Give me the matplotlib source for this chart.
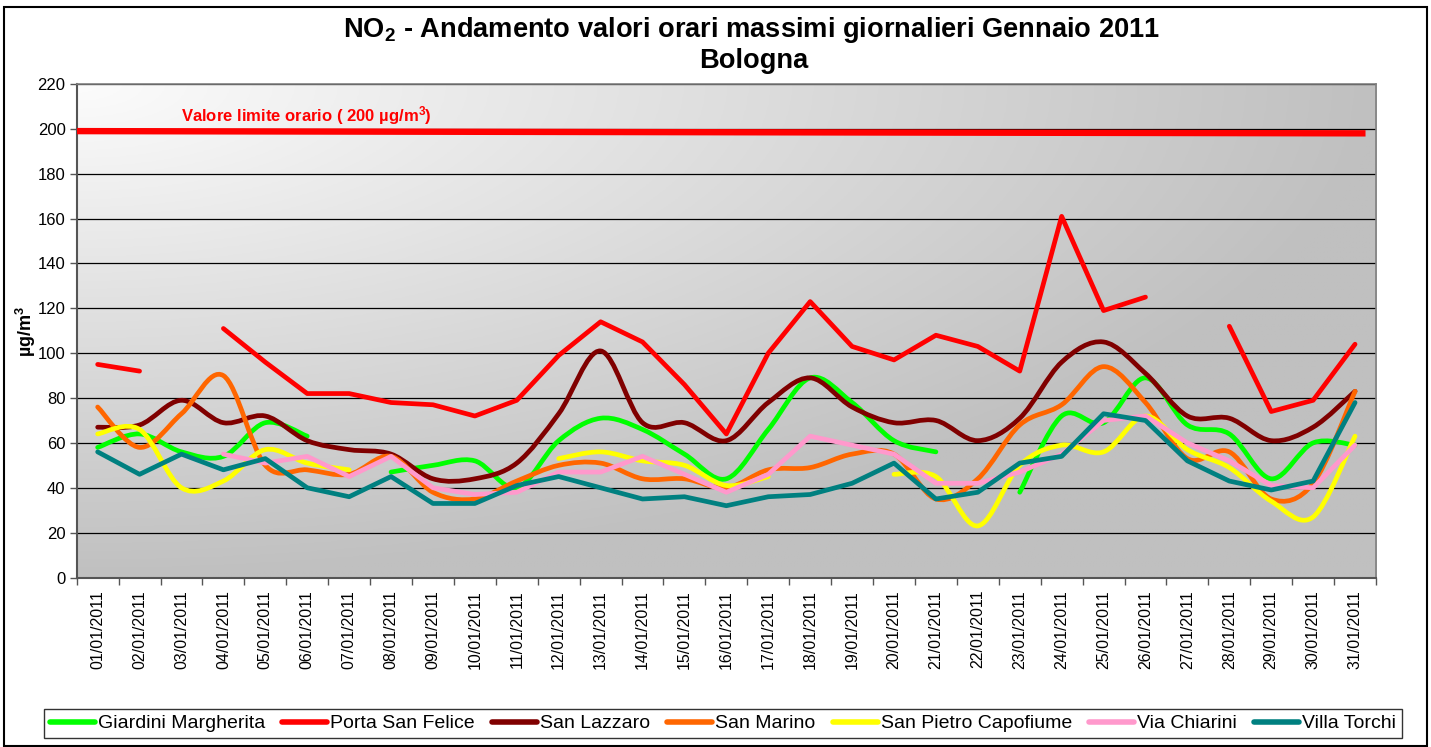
import numpy as np
import matplotlib
matplotlib.use("Agg")
import matplotlib.pyplot as plt
from matplotlib.path import Path
from matplotlib.patches import PathPatch, Rectangle
from matplotlib.lines import Line2D

plt.rcParams['font.family'] = ['Liberation Sans', 'DejaVu Sans']
plt.rcParams['mathtext.fontset'] = 'custom'
plt.rcParams['mathtext.rm'] = 'Liberation Sans'
plt.rcParams['mathtext.bf'] = 'Liberation Sans:bold'
plt.rcParams['mathtext.default'] = 'regular'

# ---------------- data ----------------
days = ["%02d/01/2011" % d for d in range(1, 32)]

giardini_margherita = [58, 64, 56, 54, 69, 63, None, 47, 50, 52, 40, 61, 71, 66, 55, 44,
                       66, 89, 78, 61, 56, None, 38, 72, 69, 89, 68, 64, 44, 60, 59]
porta_san_felice = [95, 92, None, 111, 96, 82, 82, 78, 77, 72, 79, 99, 114, 105, 86, 64,
                    100, 123, 103, 97, 108, 103, 92, 161, 119, 125, None, 112, 74, 79, 104]
san_lazzaro = [67, 68, 79, 69, 72, 61, 57, 55, 44, 44, 51, 73, 101, 69, 69, 61,
               78, 89, 76, 69, 70, 61, 71, 96, 105, 91, 72, 71, 61, 67, 83]
san_marino = [76, 58, 73, 90, 50, 48, 46, 54, 38, 35, 43, 50, 51, 44, 44, 40,
              48, 49, 55, 55, 35, 44, 68, 77, 94, 78, 53, 56, 35, 42, 83]
san_pietro_capofiume = [64, 66, 40, 43, 57, 51, 48, None, None, None, None, 53, 56, 52, 50, 41,
                        45, None, None, 46, 45, 23, 50, 59, 56, 72, 57, 49, 34, 27, 63]
via_chiarini = [None, None, None, 55, 51, 54, 45, 54, 40, 37, 38, 47, 47, 54, 46, 38,
                46, 63, 59, 55, 42, 42, 47, 55, 70, 72, 60, 52, 41, 40, 59]
villa_torchi = [56, 46, 55, 48, 53, 40, 36, 45, 33, 33, 41, 45, 40, 35, 36, 32,
                36, 37, 42, 51, 35, 38, 51, 54, 73, 70, 52, 43, 39, 43, 78]

limit_line = [199, 198]          # drawn limit line (left edge -> right end)
limit_label = "Valore limite orario ( 200 µg/m$^{\\mathbf{3}}$)"

series_names = ["Giardini Margherita", "Porta San Felice", "San Lazzaro", "San Marino",
                "San Pietro Capofiume", "Via Chiarini", "Villa Torchi"]
series_values = [giardini_margherita, porta_san_felice, san_lazzaro, san_marino,
                 san_pietro_capofiume, via_chiarini, villa_torchi]
series_colors = ["#00FF00", "#FF0000", "#800000", "#FF6600", "#FFFF00", "#FF99CC", "#008080"]
series_smooth = [True, False, True, True, True, False, False]

yticks = list(range(0, 221, 20))

# ---------------- figure ----------------
W, H = 1431, 747
fig = plt.figure(figsize=(W / 100, H / 100), dpi=100)
fig.patch.set_facecolor("white")
ax = fig.add_axes([76.7 / W, 1 - 577.5 / H, (1376 - 76.7) / W, (577.5 - 84) / H])

n = len(days)
x = np.arange(n)

# gradient background (light at top-left corner, gray towards bottom/right)
gx, gy = np.meshgrid(np.linspace(0, 1, 400), np.linspace(0, 1, 200))
t = np.clip(np.sqrt(gx ** 2 + gy ** 2), 0, 1)
c0, c1 = 252 / 255, 192 / 255
val = c0 + (c1 - c0) * t
img = np.dstack([val, val, val])
ax.imshow(img, extent=[-0.5, n - 0.5, 0, 220], aspect='auto', zorder=0, origin='upper')
ax.set_xlim(-0.5, n - 0.5)
ax.set_ylim(0, 220)

ax.set_axisbelow(True)
ax.yaxis.grid(True, color="black", lw=0.9)
ax.set_yticks(yticks)
ax.set_yticklabels([str(v) for v in yticks], fontsize=12)
ax.tick_params(axis='y', length=5, width=1, color="#555555", pad=3)

ax.set_xticks(x)
ax.set_xticklabels(days, rotation=90, fontsize=11.5)
ax.tick_params(axis='x', which='major', length=0, pad=9)
ax.set_xticks(np.arange(-0.5, n, 1.0), minor=True)
ax.tick_params(axis='x', which='minor', length=5, width=1, color="#555555")

for s in ["top", "right"]:
    ax.spines[s].set_color("#808080")
    ax.spines[s].set_linewidth(1.2)
for s in ["left", "bottom"]:
    ax.spines[s].set_color("#555555")
    ax.spines[s].set_linewidth(1.5)


def smooth_path(xs, ys):
    verts, codes = [], []
    runs, cur = [], []
    for xi, yi in zip(xs, ys):
        if yi is None:
            if cur:
                runs.append(cur)
            cur = []
        else:
            cur.append((xi, yi))
    if cur:
        runs.append(cur)
    for run in runs:
        p = np.array(run, dtype=float)
        verts.append(p[0]); codes.append(Path.MOVETO)
        for i in range(len(p) - 1):
            p0 = p[i - 1] if i > 0 else p[i]
            p3 = p[i + 2] if i + 2 < len(p) else p[i + 1]
            c1_ = p[i] + (p[i + 1] - p0) / 6.0
            c2_ = p[i + 1] - (p3 - p[i]) / 6.0
            verts += [c1_, c2_, p[i + 1]]
            codes += [Path.CURVE4] * 3
    return Path(verts, codes)


handles = []
for name, vals, col, sm in zip(series_names, series_values, series_colors, series_smooth):
    if sm:
        patch = PathPatch(smooth_path(x, vals), facecolor="none", edgecolor=col, lw=3.4,
                          capstyle='round', joinstyle='round', zorder=3)
        ax.add_patch(patch)
    else:
        yv = np.array([np.nan if v is None else v for v in vals], dtype=float)
        ax.plot(x, yv, color=col, lw=3.4, solid_capstyle='round', solid_joinstyle='round', zorder=3)
    handles.append(Line2D([], [], color=col, lw=4, solid_capstyle='round'))

# limit line
ax.plot([-0.5, 30.25], limit_line, color="#FF0000", lw=4.6, solid_capstyle='butt', zorder=3)
ax.text(2.0, 201.0, limit_label, color="#FF0000", fontsize=12, fontweight='bold',
        ha='left', va='bottom', zorder=4)

# titles
fig.text(751 / W, 1 - 30 / H,
         r"NO$_{\mathbf{2}}$ - Andamento valori orari massimi giornalieri Gennaio 2011",
         ha='center', va='center', fontsize=19.6, fontweight='bold')
fig.text(754 / W, 1 - 61 / H, "Bologna", ha='center', va='center', fontsize=19.6, fontweight='bold')

# y label
fig.text(26 / W, 1 - 331 / H, "µg/m$^{\\mathbf{3}}$", rotation=90, ha='center', va='center',
         fontsize=13, fontweight='bold')

# legend
leg = fig.legend(handles, series_names, loc='center', bbox_to_anchor=(723 / W, 1 - 723.5 / H),
                 ncol=7, frameon=True, fancybox=False,
                 handlelength=2.3, handletextpad=0.15, columnspacing=0.9,
                 borderpad=0.3, borderaxespad=0,
                 prop={'family': ['Liberation Sans'], 'size': 14})
leg.get_frame().set_edgecolor("black")
leg.get_frame().set_linewidth(1.0)

# figure border
fig.patches.append(Rectangle((4 / W, 1 / H), 1423 / W, 739 / H, transform=fig.transFigure,
                             fill=False, edgecolor="black", lw=1.5))

fig.savefig("out.png", dpi=100)
